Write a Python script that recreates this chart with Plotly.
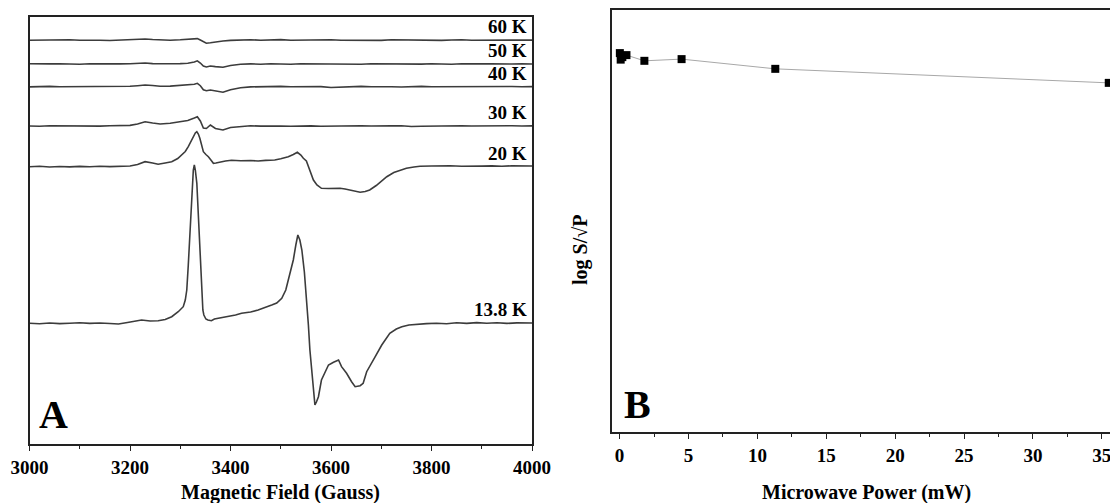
import plotly.graph_objects as go

# ---------------- Panel A: EPR spectra (arbitrary units) ----------------
field_grid = ([3000, 3020, 3040, 3060, 3080, 3100, 3120, 3140, 3160, 3180, 3200] +
              [3215, 3230, 3245, 3260, 3280, 3300, 3315, 3328, 3334, 3340, 3346, 3352, 3360, 3370, 3385] +
              list(range(3400, 4001, 20)))

sig_60K = ([-0.3, 0.0, -0.4, -0.1, 0.3, -0.2, 0.1, -0.3, -0.5, 0.0, 0.2] +
           [0.4, 1.0, 0.5, -0.1, -0.2, 0.2, 0.4, 1.0, 1.4, 0.0, -2.0, -3.2, -2.8, -2.0, -1.0] +
           [-0.4, 0.0, 0.3, -0.2, 0.0, 0.4, -0.2, 0.0, -0.4, 0.1, 0.3, -0.2, -0.3, 0.1, -0.1, -0.4,
            0.2, 0.0, -0.3, 0.1, -0.1, -0.4, 0.0, 0.3, -0.2, -0.1, -0.4, 0.1, 0.0, -0.3, -0.1])

sig_50K = ([0.2, -0.2, 0.1, 0.3, -0.1, -0.3, 0.2, 0.0, -0.2, 0.1, 0.3] +
           [0.6, 1.0, 0.4, 0.0, 0.2, 0.4, 0.8, 2.0, 3.2, 1.0, -2.0, -3.0, -2.0, -2.6, -3.2] +
           [-1.5, -0.3, 0.1, -0.2, 0.3, 0.0, -0.3, 0.2, 0.1, -0.2, 0.0, 0.3, -0.1, -0.3, 0.2, 0.0,
            0.4, -0.2, 0.1, -0.1, 0.3, 0.0, -0.2, 0.2, -0.1, 0.1, 0.3, -0.2, 0.0, 0.2, 0.0])

sig_40K = ([-0.2, 0.1, 0.3, -0.1, 0.0, 0.2, -0.3, 0.1, 0.3, 0.0, 0.4] +
           [1.0, 1.7, 1.2, 0.5, 0.6, 1.2, 1.8, 2.5, 3.4, 1.0, -3.0, -4.0, -3.3, -4.0, -5.5] +
           [-3.0, -1.0, -0.2, 0.2, -0.1, 0.3, 0.0, 0.2, -0.2, 0.1, -0.8, -0.4, 0.0, 0.3, -0.1, 0.2,
            0.0, -0.3, 0.1, 0.3, -0.1, 0.0, 0.2, -0.2, 0.1, 0.3, -0.1, 0.0, 0.2, -0.1, 0.1])

sig_30K = ([0.0, -0.3, 0.2, 0.1, -0.2, 0.3, 0.0, -0.1, 0.2, 0.4, 0.6] +
           [2.0, 4.3, 3.0, 2.0, 2.8, 4.0, 5.5, 8.0, 9.3, 5.0, -2.0, -2.5, 1.0, -2.5, -4.0] +
           [-1.5, -0.3, 0.2, -0.1, 0.3, 0.0, -0.2, 0.2, 0.1, -0.3, 0.0, 0.2, -0.1, 0.3, 0.0, -0.2,
            0.1, 0.3, -0.5, -0.3, 0.0, 0.2, -0.1, 0.3, 0.0, 0.2, -0.2, 0.1, 0.3, 0.0, 0.1])

field_20K = [3000, 3020, 3040, 3060, 3080, 3100, 3120, 3140, 3160, 3180, 3200, 3215, 3230, 3245,
             3256, 3270, 3283, 3295, 3303, 3310, 3316, 3322, 3326, 3330, 3333, 3336, 3339, 3343,
             3346, 3351, 3356, 3361, 3366, 3371, 3376, 3390, 3402, 3420, 3440, 3455, 3470, 3488,
             3500, 3515, 3525, 3533, 3540, 3545, 3551, 3558, 3565, 3572, 3581, 3595, 3610, 3618,
             3628, 3638, 3648, 3658, 3668, 3677, 3690, 3700, 3711, 3725, 3740, 3750, 3765, 3777,
             3800, 3820, 3837, 3860, 3880, 3900, 3920, 3940, 3960, 3980, 4000]
sig_20K = [0.0, 0.4, -0.3, 0.2, -0.2, 0.3, -0.1, 0.4, 0.1, 0.5, 0.7, 2.2, 5.0, 3.7,
           2.4, 3.7, 5.0, 8.2, 11.7, 15.2, 20.0, 25.7, 30.0, 33.7, 35.0, 32.7, 28.4, 21.2,
           15.0, 12.2, 10.0, 6.7, 3.4, 3.7, 4.4, 5.7, 6.4, 5.9, 6.2, 5.7, 6.3, 6.7,
           7.9, 10.0, 12.2, 14.4, 11.7, 8.4, 5.7, -3.3, -13.3, -18.3, -21.6, -21.8, -21.3, -21.6,
           -22.3, -23.3, -24.8, -25.6, -24.8, -23.3, -18.8, -14.8, -10.0, -5.8, -3.3, -1.6, -0.3, 0.5,
           0.7, 0.9, 1.0, 0.5, 0.9, 0.6, 0.8, 0.4, 0.9, 0.5, 0.7]

field_13K = [3000, 3020, 3040, 3060, 3080, 3100, 3120, 3140, 3160, 3177, 3195, 3210, 3223, 3240,
             3256, 3270, 3283, 3296, 3306, 3310, 3313, 3316, 3319, 3322, 3324, 3326, 3328, 3330,
             3333, 3335, 3337, 3340, 3342.6, 3345, 3347, 3351, 3355, 3362, 3368, 3376, 3385, 3396,
             3410, 3422, 3440, 3455, 3470, 3482, 3492, 3502, 3510, 3515, 3520, 3525, 3530, 3534,
             3538, 3542, 3547, 3552, 3555, 3558, 3562, 3565, 3568, 3571, 3575, 3581, 3588, 3595,
             3605, 3615, 3621, 3631, 3641, 3648, 3658, 3664, 3671, 3680, 3688, 3701, 3717, 3730,
             3741, 3755, 3774, 3790, 3810, 3830, 3850, 3870, 3890, 3910, 3930, 3950, 3970, 3990, 4000]
sig_13K = [0.0, -0.5, 0.3, -0.3, 0.1, 0.6, -0.1, 0.3, -0.2, -0.7, 0.8, 1.8, 3.3, 2.3,
           2.6, 3.8, 6.6, 11.6, 16.6, 23.3, 33.3, 58.3, 90.0, 118.3, 140.0, 153.3, 158.3, 153.3,
           140.0, 118.3, 90.0, 53.3, 26.6, 13.3, 8.3, 4.3, 3.3, 2.6, 4.3, 5.0, 5.8, 6.6,
           8.3, 10.0, 11.3, 13.3, 15.8, 18.3, 20.3, 25.0, 33.3, 43.3, 53.3, 63.3, 78.3, 88.3,
           83.3, 73.3, 51.3, 23.3, -1.7, -26.7, -51.7, -70.0, -81.7, -78.7, -73.4, -56.7, -50.0, -41.7,
           -39.0, -36.7, -43.4, -50.0, -58.4, -63.4, -62.4, -60.0, -48.4, -39.7, -33.4, -21.7, -10.0, -5.7,
           -3.4, -1.7, -0.7, -0.3, 0.1, -0.4, 0.5, -0.1, 0.7, 0.0, 0.6, -0.1, 0.4, 0.1, 0.3]

temp_labels = ["60 K", "50 K", "40 K", "30 K", "20 K", "13.8 K"]
stack_offsets = [389.0, 365.0, 342.3, 303.0, 262.3, 105.7]
spec_fields = [field_grid, field_grid, field_grid, field_grid, field_20K, field_13K]
spec_signals = [sig_60K, sig_50K, sig_40K, sig_30K, sig_20K, sig_13K]

# ---------------- Panel B: power saturation ----------------
power_mW = [0.02, 0.08, 0.2, 0.5, 1.8, 4.5, 11.3, 35.5]
log_S_sqrtP = [3.78, 3.715, 3.74, 3.76, 3.703, 3.72, 3.623, 3.483]

W, H = 1110, 503
FONT = "Liberation Serif"
AXC = "#222222"

fig = go.Figure()

for lab, off, xs, ys in zip(temp_labels, stack_offsets, spec_fields, spec_signals):
    n = min(len(xs), len(ys))
    fig.add_trace(go.Scatter(x=xs[:n], y=[off + v for v in ys[:n]], mode="lines",
                             line=dict(color="#3c3c3c", width=1.6), name=lab,
                             xaxis="x", yaxis="y", showlegend=False))
    fig.add_annotation(x=4000, y=off, xref="x", yref="y", text=lab, showarrow=False,
                       xanchor="right", yanchor="bottom", xshift=-3, yshift=1,
                       font=dict(family=FONT, size=19, color="black", weight="bold"))

fig.add_trace(go.Scatter(x=power_mW, y=log_S_sqrtP, mode="lines+markers",
                         line=dict(color="#a8a8a8", width=1),
                         marker=dict(symbol="square", size=8, color="black"),
                         xaxis="x2", yaxis="y2", showlegend=False))

tickfont = dict(family=FONT, size=19, color="black", weight="bold")

fig.update_layout(
    width=W, height=H,
    template="none",
    margin=dict(l=0, r=0, t=0, b=0, pad=0, autoexpand=False),
    paper_bgcolor="white", plot_bgcolor="white",
    showlegend=False,
    xaxis=dict(domain=[29.5 / W, 532 / W], range=[3000, 4000], anchor="y", automargin=False,
               tickmode="linear", tick0=3000, dtick=200, ticks="outside", ticklen=5,
               tickwidth=1.3, tickcolor=AXC, ticklabeloverflow="allow",
               minor=dict(ticks="outside", ticklen=3, dtick=100, tick0=3000, tickcolor=AXC),
               showline=True, linecolor=AXC, linewidth=1.5, mirror=True,
               showgrid=False, zeroline=False, tickfont=tickfont),
    yaxis=dict(domain=[1 - 444 / H, 1 - 17 / H], range=[-15, 412], anchor="x", automargin=False,
               showticklabels=False, ticks="", showline=True, linecolor=AXC,
               linewidth=1.5, mirror=True, showgrid=False, zeroline=False),
    xaxis2=dict(domain=[612 / W, 1.0], range=[-0.55, 35.59], anchor="y2", automargin=False,
                tickmode="linear", tick0=0, dtick=5, ticks="outside", ticklen=5,
                tickwidth=1.3, tickcolor=AXC, ticklabeloverflow="allow",
                minor=dict(ticks="outside", ticklen=3, dtick=2.5, tick0=0, tickcolor=AXC),
                showline=True, linecolor=AXC, linewidth=1.5, mirror=True,
                showgrid=False, zeroline=False, tickfont=tickfont),
    yaxis2=dict(domain=[1 - 432 / H, 1 - 10 / H], range=[0, 4.21], anchor="x2", automargin=False,
                showticklabels=False, ticks="", showline=True, linecolor=AXC,
                linewidth=1.5, mirror=False, showgrid=False, zeroline=False),
)

title_font = dict(family=FONT, size=20, color="black", weight="bold")
fig.add_annotation(text="Magnetic Field (Gauss)", xref="paper", yref="paper",
                   x=280.7 / W, y=1 - 492 / H, showarrow=False, xanchor="center",
                   yanchor="middle", font=title_font)
fig.add_annotation(text="Microwave Power (mW)", xref="paper", yref="paper",
                   x=866 / W, y=1 - 492 / H, showarrow=False, xanchor="center",
                   yanchor="middle", font=title_font)
fig.add_annotation(text="log S/√P", xref="paper", yref="paper",
                   x=580 / W, y=1 - 250 / H, showarrow=False, textangle=-90,
                   xanchor="center", yanchor="middle",
                   font=dict(family=FONT, size=20, color="black", weight="bold"))
panel_font = dict(family=FONT, size=40, color="black", weight="bold")
fig.add_annotation(text="A", xref="paper", yref="paper", x=53 / W, y=1 - 414 / H,
                   showarrow=False, xanchor="center", yanchor="middle", font=panel_font)
fig.add_annotation(text="B", xref="paper", yref="paper", x=637 / W, y=1 - 404 / H,
                   showarrow=False, xanchor="center", yanchor="middle", font=panel_font)

fig.write_html("out.html")
